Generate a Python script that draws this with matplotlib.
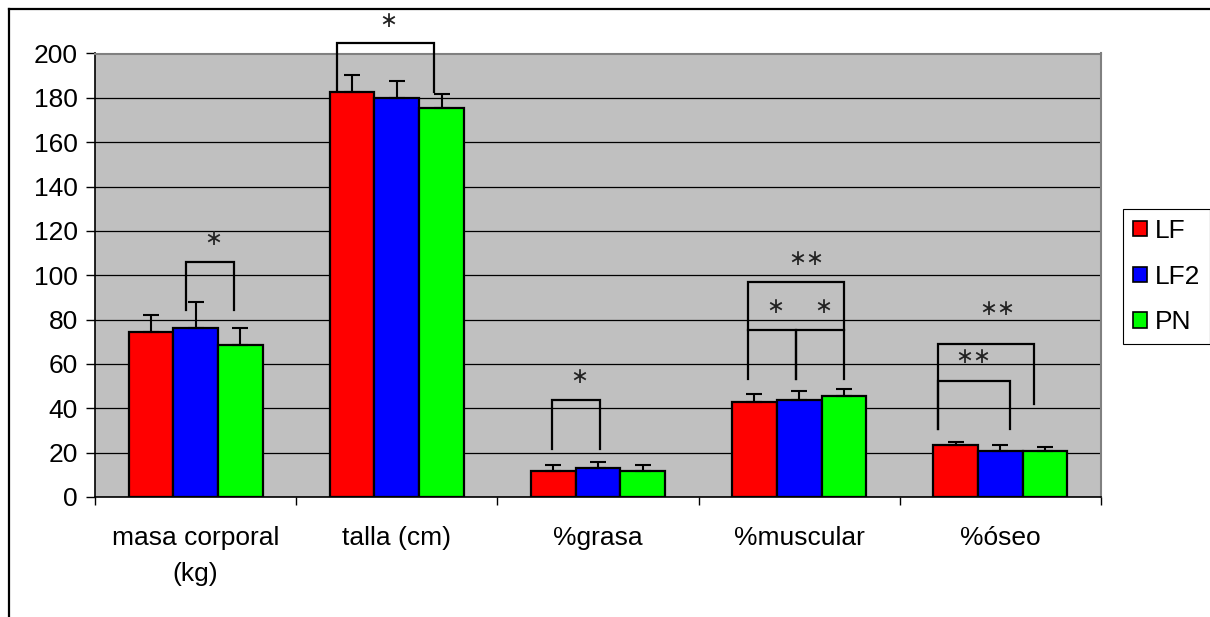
import numpy as np
import matplotlib.pyplot as plt
from matplotlib.patches import Patch
from matplotlib.lines import Line2D

plt.rcParams['font.family'] = ['Liberation Sans', 'DejaVu Sans']

# medias y desviaciones por variable
categorias = ['masa corporal\n(kg)', 'talla (cm)', '%grasa', '%muscular', '%óseo']
grupos = ['LF', 'LF2', 'PN']
colores = ['#FF0000', '#0000FF', '#00FF00']

media_lf = [74.5, 182.7, 11.9, 42.7, 23.5]
media_lf2 = [76.3, 180.0, 13.1, 43.6, 20.8]
media_pn = [68.6, 175.2, 11.9, 45.7, 20.8]

de_lf = [7.7, 7.8, 2.4, 3.9, 1.2]
de_lf2 = [11.7, 7.8, 2.8, 4.1, 2.8]
de_pn = [7.7, 6.6, 2.4, 2.9, 1.9]

# corchetes de significación: (categoría, x izq, x der, altura, base izq, base der)
corchetes = [
    (0, -0.048, 0.191, 106.0, 84.3, 84.3),
    (1, -0.297, 0.183, 204.7, 183.0, 182.7),
    (2, -0.229, 0.010, 43.6, 21.8, 21.8),
    (3, -0.253, 0.224, 96.9, 75.4, 75.4),
    (3, -0.253, -0.014, 75.4, 53.3, 53.3),
    (3, -0.014, 0.224, 75.4, 53.3, 53.3),
    (4, -0.310, 0.049, 52.5, 30.7, 30.7),
    (4, -0.310, 0.168, 68.9, 30.7, 41.9),
]
# asteriscos: (categoría, x, y, texto)
asteriscos = [
    (0, 0.086, 116.5, '∗'),
    (1, -0.042, 214.6, '∗'),
    (2, -0.093, 54.0, '∗'),
    (3, -0.119, 85.5, '∗'),
    (3, 0.120, 85.5, '∗'),
    (3, 0.037, 107.3, '∗∗'),
    (4, -0.135, 63.0, '∗∗'),
    (4, -0.018, 84.7, '∗∗'),
]

medias = [media_lf, media_lf2, media_pn]
errores = [de_lf, de_lf2, de_pn]

fig = plt.figure(figsize=(12.10, 6.17), dpi=100)
ax = fig.add_axes([95 / 1210, 1 - 497 / 617, 1006 / 1210, 443.5 / 617])
ax.set_facecolor('#C0C0C0')

x = np.arange(len(categorias))
ancho = 1 / 4.5
for i in range(3):
    pos = x + (i - 1) * ancho
    ax.bar(pos, medias[i], ancho, color=colores[i], edgecolor='black',
           linewidth=1.6, zorder=2, label=grupos[i])
    ax.errorbar(pos, medias[i], yerr=[np.zeros(len(x)), errores[i]], fmt='none',
                ecolor='black', elinewidth=1.5, capsize=5.5, capthick=1.5, zorder=3)

for c, xi, xd, alto, bi, bd in corchetes:
    ax.plot([c + xi, c + xi, c + xd, c + xd], [bi, alto, alto, bd],
            color='black', lw=1.6, zorder=4, clip_on=False, solid_joinstyle='miter')

for c, dx, y, txt in asteriscos:
    ax.text(c + dx, y, txt, ha='center', va='center', fontsize=15.5,
            family='DejaVu Sans', color='#222222', zorder=5, clip_on=False)

ax.set_xlim(-0.5, 4.5)
ax.set_ylim(0, 200)
ax.set_yticks(np.arange(0, 201, 20))
ax.yaxis.grid(True, color='black', lw=0.9)
ax.set_axisbelow(True)

ax.set_xticks(x)
ax.set_xticklabels(categorias, linespacing=1.6)
ax.set_xticks(np.arange(-0.5, 4.6, 1), minor=True)
ax.tick_params(axis='x', which='major', length=0, pad=21, labelsize=19)
ax.tick_params(axis='x', which='minor', length=6, width=1, direction='out')
ax.tick_params(axis='y', length=6.5, width=1, pad=6, labelsize=19)

for lado in ['top', 'right']:
    ax.spines[lado].set_color('#808080')
    ax.spines[lado].set_linewidth(1.5)
ax.spines['left'].set_linewidth(1.2)
ax.spines['bottom'].set_linewidth(1.2)

handles = [Patch(facecolor=col, edgecolor='black', linewidth=1.2) for col in colores]
leg = fig.legend(handles, grupos, loc='upper left',
                 bbox_to_anchor=(1123 / 1210, 1 - 209 / 617), bbox_transform=fig.transFigure,
                 fontsize=19, frameon=True, fancybox=False, framealpha=1,
                 edgecolor='black', borderpad=0.38, labelspacing=0.82,
                 handlelength=0.53, handleheight=0.53, handletextpad=0.3,
                 borderaxespad=0)
leg.get_frame().set_linewidth(0.8)

# marco exterior del gráfico
fig.add_artist(Line2D([9 / 1210, 9 / 1210], [0, 1 - 9 / 617], color='black', lw=1.6))
fig.add_artist(Line2D([9 / 1210, 1], [1 - 9 / 617, 1 - 9 / 617], color='black', lw=1.6))

fig.savefig('out.png', dpi=100)
